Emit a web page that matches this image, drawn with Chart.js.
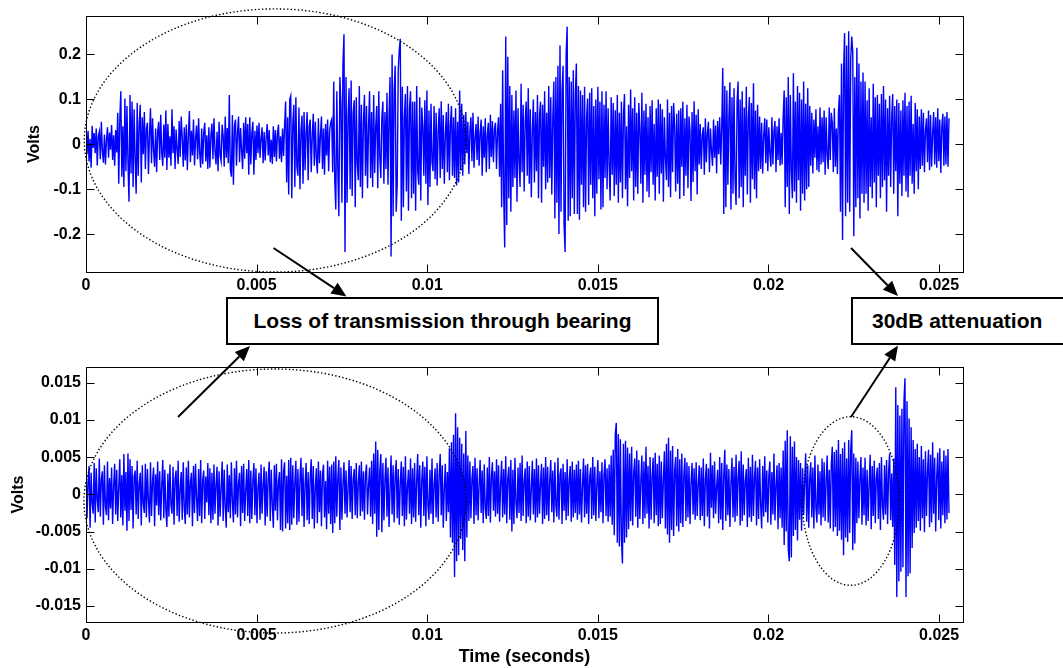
<!DOCTYPE html>
<html>
<head>
<meta charset="utf-8">
<script src="https://cdn.jsdelivr.net/npm/chart.js@4.4.0/dist/chart.umd.min.js"></script>
<style>
  html, body { margin: 0; padding: 0; background: #fff; overflow: hidden; }
  #wrap { position: relative; width: 1063px; height: 668px; }
  canvas { position: absolute; left: 0; top: 0; }
  .note {
    position: absolute; box-sizing: border-box; border: 2px solid #000; background: #fff;
    font: bold 21px "Liberation Sans", Arial, sans-serif; color: #000;
    display: flex; align-items: center; white-space: nowrap;
  }
</style>
</head>
<body>
<div id="wrap">
  <canvas id="topChart" width="1063" height="668"></canvas>
  <canvas id="bottomChart" width="1063" height="668"></canvas>
  <div class="note" style="left:226px;top:297px;width:433px;height:48px;justify-content:center;">Loss of transmission through bearing</div>
  <div class="note" style="left:851px;top:297px;width:240px;height:48px;padding-left:19px;">30dB attenuation</div>
</div>
<script>
// sample clock of both records (seconds)
const sampleStep = 0.00003;

// upper trace: bearing transmitted signal, millivolts
const topMillivolts = [
  45, -22, 30, -38, 12, -52, 41, -8, 25, -20, 35, -47, 18, 28, -33, 50, -15, -41, 22, -45, 10, 38, -30, 26, -12, 43, -35, 20, -48, 32, -18, 70, -88, 55, 118, -72, 40, -95, 102, -60,
  85, -40, -128, 110, -65, 95, -95, 78, -30, -110, 92, -70, 45, 88, -85, 60, -22, 72, -55, 35, 48, -66, 20, 80, -42, 58, -12, -50, 35, -62, 28, 50, -35, 66, -20, -48, 44, -30, 75, -57,
  45, -30, 18, -48, 78, -20, 40, -55, 33, -10, -44, 52, -28, 62, 15, -50, 38, -36, 44, -58, 22, 74, -40, 30, -25, 55, -47, 12, 42, -33, 58, -18, -52, 35, -44, 26, 48, -38, 20, -55,
  38, -52, 20, 46, -33, 58, -14, -45, 28, -60, 50, -25, -38, 44, 18, -50, 62, -30, 36, -42, 110, -55, -72, 65, -90, 40, 55, -48, 25, 62, -40, 36, -15, -55, 48, -32, 60, -20, 45, -68,
  60, -45, 25, 50, -68, 30, -35, 42, -20, 48, -30, 12, 38, -42, 28, -36, 15, 45, -25, 32, -40, 10, -44, 40, -28, 32, -38, 22, 44, -32, 18, -40, 35, -26, 42, 95, -85, 60, -112, 100,
  108, -120, 45, 88, -95, 105, -50, -70, 82, -100, 30, 64, -88, 72, -58, 25, 72, -80, 40, 55, -62, 18, 68, -48, 50, -30, -65, 58, -42, 20, 62, -55, 35, -68, 45, -25, 55, -60, 30, 48,
  55, -62, 140, -80, -145, 118, -60, -160, 150, 90, -130, 180, 245, -240, 150, -130, 60, 125, -100, 142, -115, 70, 98, -140, 105, -45, -80, 130, -95, 88, -120, 50, 110, -70, 85, -98, 40, 118, -75, 72,
  -95, 110, -64, 40, 85, -98, 118, -30, -75, 60, 95, -88, 72, -55, 115, -90, 64, 150, -250, 200, -160, 120, 175, -150, -90, 165, 210, 235, -170, 128, -140, 60, 112, -105, 130, -148, 80, 118, -120, 95,
  -110, 95, -148, 130, -60, -90, 105, -125, 82, 40, -70, 98, -88, 120, -135, 75, -95, 90, -40, -60, 85, -78, 70, -92, 30, 80, -75, 96, -55, 65, -88, 20, 72, -62, 90, -80, 45, 85, -70, 60,
  -75, 80, -92, 50, -85, 120, -58, 90, -70, 65, -45, 72, -20, 50, -66, 30, 60, -38, 70, -52, 15, 45, -35, 62, -48, 25, 55, -70, 40, -30, 58, -62, 20, 48, -55, 66, -28, 52, -40, 35,
  48, -55, 30, 60, -72, 90, -140, 165, -110, -230, 240, -180, 195, -120, 130, -150, 110, -95, 75, -75, 120, -128, 80, -40, -95, 135, -62, 88, -105, 50, 95, -70, 125, -88, 78, -118, 30, 100, -85, 72,
  -60, 110, -120, 65, 95, -130, 88, -50, 118, -100, 70, -85, 130, -75, 105, -112, 60, 140, -165, 150, -130, 175, -200, 220, -150, 120, 175, -180, -240, 200, 262, -170, 150, -160, 140, -120, 165, -155, 110, 180,
  -155, 130, -168, 120, -90, 110, -140, 128, -150, 60, 102, -135, 115, -90, 125, -120, 85, -160, 100, -110, 128, -78, 95, -145, 118, -140, 88, -75, 118, -100, 80, -45, -125, 105, -68, 92, -115, 76, -90, 110,
  -130, 70, -85, 95, -120, 65, 112, -100, 40, -138, 88, -75, 122, -60, 80, -125, 105, -95, 70, -110, 92, 35, -88, 115, -130, 75, -68, 90, -105, 60, -118, 85, -62, 98, -90, 45, -125, 80, -72, 100,
  -110, 90, -65, 78, -128, 60, -30, -80, 100, -95, 70, -118, 85, -62, 92, 40, -105, 68, -88, 75, -122, 80, -50, 95, -115, 58, -70, 88, -98, 62, 30, -126, 72, -84, 96, -60, 66, -112, 78, -45,
  45, -55, 20, 38, -68, 58, -40, 25, 50, -62, 35, -15, -48, 55, -30, 42, -65, 52, -22, 60, -45, 38, 170, -155, 130, -140, 120, -90, 60, 138, -145, 105, -110, 125, -80, -135, 95, 140, -120, 100,
  -95, 118, -140, 82, -70, 128, -112, 60, 105, -130, 92, -78, 136, -100, 75, -120, 88, -60, 62, -55, 48, -65, 20, 58, -42, 55, -60, 38, -20, -50, 60, -45, 30, 52, -62, 40, -35, 58, -48, 25,
  -45, 60, 120, -140, 105, -95, 150, -155, 110, -60, -120, 158, -105, 95, -130, 130, -80, 115, -148, 100, -110, 140, -125, 90, -100, 125, -95, 85, -48, 70, -65, 55, -30, 78, -58, 40, -62, 82, -45, 60,
  -40, 75, -68, 60, -25, -55, 82, -35, 70, 48, -62, 80, -50, 35, -66, 72, 110, -150, 180, -213, 160, 248, -160, 220, -130, 252, -150, 190, 240, 205, -205, 150, -140, 215, -120, 180, -165, 140, -110, 160,
  -130, 140, -110, 98, -148, 125, -95, 60, -120, 135, -85, 105, -140, 110, -70, 90, -120, 112, -95, 130, -80, 100, -150, 80, -70, 108, -95, 60, 112, -110, 85, -60, 100, -160, 92, -88, 75, -115, 98, -70,
  115, -105, 85, -118, 95, -70, 108, -88, 45, -110, 92, -60, 78, -100, 62, -55, 78, -48, 70, -62, 30, 58, -40, 75, -58, 65, -50, 22, 72, -45, 60, -52, 80, -38, 55, -64, 40, 68, -48, 62,
  -45, 72, -50, 58
];

// lower trace: 30dB attenuated record, millivolts
const bottomMillivolts = [
  4.6, -3.2, 1.5, 3.8, -4.5, 2.9, -1.2, -2.6, 4.2, -3.8, 3.5, -0.8, -2.4, 4.8, -3.0, 2.0, 3.1, -4.1, 3.9, -1.6, -2.8, 4.4, -3.5, 2.2, -1.9, 3.6, -4.0, 1.1, 4.1, -2.7, 3.3, -3.6, 0.9, 4.7, -3.1, 2.6, -4.2, 5.4, -2.2, 3.0,
  -4.9, 5.5, -3.6, 4.7, -2.1, 3.8, -4.6, 2.4, 3.2, -2.7, 4.5, -3.3, 1.4, 2.9, -4.2, 3.9, -1.3, -2.5, 4.1, -3.1, 3.4, -0.9, -3.8, 4.3, -2.9, 1.8, 3.6, -4.3, 2.7, -1.5, 4.4, -2.8, 3.1, -3.5, 1.2, 4.6, -3.2, 3.3, -2.0, -4.4,
  2.8, -3.0, 4.0, -1.4, -2.6, 3.7, -4.1, 2.1, 3.2, -2.9, 4.5, -3.7, 0.7, 3.0, -3.4, 4.3, -1.9, -4.0, 3.6, -2.7, 4.5, -3.1, 1.6, 2.9, -4.3, 3.8, -2.5, 4.1, -0.6, -3.6, 3.4, -2.9, 4.6, -3.9, 1.9, 3.2, -3.3, 2.4, -1.1, 4.2,
  -2.8, 3.5, -3.9, 2.9, -3.4, 4.0, -2.6, 1.3, 3.7, -4.2, 3.1, -3.0, 0.8, 4.4, -3.6, 3.3, -1.7, -4.5, 4.0, -2.4, 2.6, -3.2, 4.3, -1.0, -3.8, 3.5, -2.7, 4.5, -3.1, 1.5, 2.9, -4.3, 3.8, -2.5, 4.1, -3.6, 0.5, 3.4, -2.9, 4.6,
  -3.9, 3.2, -3.3, 1.8, 4.2, -2.8, 3.5, -3.9, 0.9, 2.9, -3.4, 4.0, -2.6, 1.2, 3.7, -4.2, 3.1, -3.0, 2.2, 4.4, -3.6, 3.3, -1.4, -4.5, 3.9, -2.2, 4.1, -3.5, 1.7, 3.0, -4.8, 4.7, -5.0, 3.1, 4.3, -4.6, 2.5, -3.9, 4.6, -4.8,
  4.9, -4.1, 3.9, -3.2, 1.6, 4.5, -4.1, 3.4, -3.7, 2.0, 4.9, -2.9, 3.6, -4.4, 1.3, 4.2, -3.5, 3.0, -4.0, 2.3, 4.7, -3.3, 3.8, -4.6, 0.9, 3.5, -3.9, 4.4, -2.4, 3.2, -4.3, 2.7, 4.0, -3.1, 1.8, -4.7, 4.5, -2.6, 3.7, -4.0,
  4.0, -5.2, 4.4, -3.9, 5.1, -3.0, 2.2, 4.6, -4.8, 3.6, -3.4, 1.4, 4.3, -2.6, 3.2, -3.1, 0.8, 4.6, -2.4, 3.8, -3.3, 2.1, 3.4, -2.8, 4.2, -3.2, 1.6, 3.9, -2.9, 4.4, -2.3, 3.1, -3.4, 2.6, 4.0, -2.7, 1.2, 3.6, -3.0, 4.5,
  -4.0, 5.5, -2.6, 7.1, -5.7, 6.0, -4.8, 3.2, 5.4, -5.1, 4.2, -3.5, 1.9, 4.9, -3.0, 3.6, -4.4, 0.7, 5.2, -2.7, 3.9, -3.8, 2.4, 4.6, -3.2, 3.4, -4.1, 1.5, 4.4, -2.9, 3.7, -4.3, 5.1, -3.4, 1.0, 3.3, -2.6, 4.8, -4.0, 3.5,
  -3.1, 4.2, -3.7, 1.8, 5.4, -2.8, 3.9, -4.5, 2.0, 4.4, -2.9, 3.7, -4.3, 5.1, -1.5, -3.4, 3.3, -2.6, 4.8, -4.0, 1.2, 3.5, -3.1, 4.2, -3.7, 2.6, 5.4, -2.8, 3.9, -4.5, 0.8, 4.1, -3.6, 3.0, -2.4, 6.2, -5.8, 7.0, -6.5, 8.0,
  -11.1, 10.9, -9.0, 9.0, -8.2, 7.6, -6.0, 6.8, -7.5, 5.5, -9.0, 8.5, -5.8, 5.2, -3.6, 4.4, -3.2, 2.1, 3.8, -4.0, 4.9, -2.8, 3.5, -3.5, 1.3, 4.6, -2.5, 3.2, -3.9, 4.0, -1.8, -3.3, 3.6, -2.9, 5.0, -3.8, 2.4, 4.3, -2.2, 3.1,
  -3.0, 4.7, -2.6, 3.9, -3.7, 1.4, 4.5, -3.1, 3.4, -2.7, 5.1, -3.9, 2.2, 3.7, -3.4, 4.6, -5.0, 3.3, -4.0, 4.9, -1.2, -3.2, 3.6, -2.5, 4.2, -3.6, 5.2, -2.9, 1.7, 3.5, -3.9, 4.4, -3.0, 3.8, -3.5, 0.8, 4.5, -2.7, 3.4, -3.8,
  4.8, -3.1, 3.9, -2.6, 1.5, 4.1, -4.0, 3.6, -3.3, 5.0, -2.8, 3.7, -3.6, 2.0, 4.6, -2.4, 3.2, -3.8, 4.3, -1.6, -3.0, 4.9, -3.4, 2.7, 3.5, -4.0, 4.1, -2.2, 3.0, -3.5, 4.7, -2.9, 1.9, 3.8, -3.7, 4.4, -3.1, 3.3, -2.5, 4.0,
  -3.4, 4.5, -2.7, 3.4, -3.8, 1.1, 4.8, -3.1, 3.9, -2.6, 4.1, -4.0, 2.3, 3.6, -3.3, 5.0, -2.8, 3.7, -3.6, 1.4, 4.6, -3.2, 3.1, -2.4, 4.3, -3.9, 2.6, 4.7, -2.9, 3.5, -3.7, 4.0, -3.0, 5.2, -4.1, 6.0, -5.5, 8.0, 9.6, -6.5,
  8.1, -7.0, 7.4, -6.0, -9.3, 6.8, -6.5, 7.2, -5.8, 6.3, -4.7, 5.5, -3.6, 6.4, -4.2, 2.8, 4.8, -3.0, 5.9, -4.5, 4.6, -3.3, 1.9, 5.2, -4.0, 4.4, -3.2, 6.4, -2.6, 3.8, -4.6, 5.0, -3.4, 2.5, 4.9, -3.9, 5.6, -2.8, 4.1, -4.3,
  5.2, -4.0, 4.4, -3.2, 2.0, 5.8, -4.6, 6.8, -5.4, 7.6, -6.5, 5.9, -4.8, 6.5, -5.6, 3.2, 5.0, -4.3, 6.1, -5.0, 4.7, -3.9, 5.5, -4.4, 2.6, 4.9, -3.6, 4.3, -3.1, 3.8, -4.0, 1.6, 4.2, -2.7, 3.5, -3.4, 4.3, -2.9, 1.3, 3.9,
  -3.5, 3.6, -2.9, 4.8, -4.3, 2.0, 4.1, -3.0, 3.5, -4.6, 5.6, -1.8, 3.9, -3.2, 4.4, -2.6, 1.0, 3.3, -3.9, 5.0, -3.4, 4.2, -4.8, 2.7, 6.0, -3.6, 4.0, -2.8, 3.4, -4.4, 1.5, 4.9, -3.1, 3.7, -3.7, 5.3, -2.9, 2.3, 4.5, -4.2,
  5.8, -3.6, 4.0, -2.8, 1.8, 3.4, -4.4, 4.9, -3.1, 3.7, -3.7, 5.3, -2.9, 2.2, 4.5, -4.2, 3.6, -3.3, 4.7, -1.4, -4.6, 3.8, -3.0, 5.1, -2.4, 3.2, -3.8, 2.5, 4.4, -4.1, 3.0, -2.7, 5.5, -3.5, 1.2, 3.9, -4.7, 4.2, -3.2, 3.6,
  -4.5, 5.9, -6.8, 7.2, -5.0, 8.6, -7.4, -9.0, 7.8, -8.5, 6.4, -5.6, 7.1, -4.8, 5.0, -6.2, 4.6, -3.4, 4.2, -4.9, 3.5, -2.8, 1.6, 5.5, -3.7, 3.9, -4.5, 2.2, 4.3, -3.1, 3.6, -4.6, 5.2, -1.9, -3.8, 4.0, -2.7, 3.1, -4.2, 4.8,
  -3.1, 4.3, -3.6, 2.0, 5.2, -3.8, 3.3, -4.6, 4.0, 6.4, -5.0, 5.7, -4.4, 6.0, -5.6, 7.3, -4.9, 5.4, -6.1, 6.2, -8.2, 7.0, -5.8, 4.8, -6.4, 7.3, -5.2, 6.0, 8.6, -7.5, 5.5, -6.6, 4.9, -3.9, 4.4, -3.2, 2.2, 5.0, -4.1, 3.6,
  -2.8, 4.9, -4.2, 3.3, -3.6, 1.4, 5.3, -4.7, 3.8, -2.9, 4.5, -3.9, 2.2, 3.6, -3.3, 4.2, -4.8, 5.0, -1.6, -3.4, 3.9, -2.7, 4.6, -4.0, 3.1, 5.5, -3.5, 2.8, -4.4, 4.8, -9.5, 14.4, -13.8, 12.0, -11.7, 10.6, -10.4, 11.5, -9.8, 12.5,
  15.6, -13.8, 12.5, -11.0, 10.2, -10.6, 9.0, -7.2, 7.3, -5.2, 6.1, -4.5, 6.8, -3.6, 5.0, -4.9, 6.5, -3.2, 4.7, -5.1, 5.8, -2.9, 3.1, 6.0, -4.4, 5.3, -3.8, 7.0, -2.6, 4.9, -5.0, 2.4, 5.6, -3.5, 6.2, -4.6, 4.4, -2.8, 5.9, -3.9,
  5.2, -3.4, 6.1, -2.5
];

const timeTicks = [0, 0.005, 0.01, 0.015, 0.02, 0.025];
const topVoltTicks = [-0.2, -0.1, 0, 0.1, 0.2];
const bottomVoltTicks = [-0.015, -0.01, -0.005, 0, 0.005, 0.01, 0.015];

const FONT = '"Liberation Sans", Arial, sans-serif';

// dotted ellipses in data units (seconds, volts)
const topEllipses = [{ cx: 0.00554, cy: 0.0085, rx: 0.00559, ry: 0.293 }];
const bottomEllipses = [
  { cx: 0.00554, cy: -0.0009, rx: 0.0056, ry: 0.01774 },
  { cx: 0.02241, cy: -0.0009, rx: 0.00142, ry: 0.01133 }
];
// arrows in page pixels [x0, y0, x1(tip), y1(tip)]
const arrows = [
  [273.5, 248, 346.5, 296.5],
  [178, 417, 250, 346],
  [851, 248, 898, 296],
  [851, 417, 898, 345.5]
];

function fmt(v) {
  return parseFloat(v.toFixed(4)).toString();
}

function drawArrow(ctx, a) {
  const [x0, y0, x1, y1] = a;
  const ang = Math.atan2(y1 - y0, x1 - x0);
  const len = 15, half = 6.5;
  const bx = x1 - len * Math.cos(ang), by = y1 - len * Math.sin(ang);
  ctx.beginPath();
  ctx.moveTo(x0, y0);
  ctx.lineTo(bx, by);
  ctx.lineWidth = 2;
  ctx.strokeStyle = '#000';
  ctx.stroke();
  ctx.beginPath();
  ctx.moveTo(x1, y1);
  ctx.lineTo(bx + half * Math.sin(ang), by - half * Math.cos(ang));
  ctx.lineTo(bx - half * Math.sin(ang), by + half * Math.cos(ang));
  ctx.closePath();
  ctx.fillStyle = '#000';
  ctx.fill();
}

function makeChart(id, values, yTicks, yMin, yMax, pad, xAxisHeight, yTitlePad, showXTitle, ellipses, arrowList) {
  const points = values.map((mv, i) => ({ x: i * sampleStep, y: mv / 1000 }));

  const framePlugin = {
    id: 'frame',
    afterDraw(chart) {
      const ctx = chart.ctx;
      const a = chart.chartArea;
      const xs = chart.scales.x, ys = chart.scales.y;
      const L = Math.round(a.left) + 0.5, R = Math.round(a.right) + 0.5;
      const T = Math.round(a.top) + 0.5, B = Math.round(a.bottom) + 0.5;
      ctx.save();
      ctx.strokeStyle = '#000';
      ctx.lineWidth = 1;
      ctx.strokeRect(L, T, R - L, B - T);
      ctx.beginPath();
      timeTicks.forEach(t => {
        const px = Math.round(xs.getPixelForValue(t)) + 0.5;
        ctx.moveTo(px, B); ctx.lineTo(px, B - 8);
        ctx.moveTo(px, T); ctx.lineTo(px, T + 8);
      });
      yTicks.forEach(v => {
        const py = Math.round(ys.getPixelForValue(v)) + 0.5;
        ctx.moveTo(L, py); ctx.lineTo(L + 8, py);
        ctx.moveTo(R, py); ctx.lineTo(R - 8, py);
      });
      ctx.stroke();

      ctx.setLineDash([1.4, 2.2]);
      ctx.lineWidth = 1.4;
      ellipses.forEach(e => {
        const cx = xs.getPixelForValue(e.cx), cy = ys.getPixelForValue(e.cy);
        const rx = xs.getPixelForValue(e.cx + e.rx) - cx;
        const ry = cy - ys.getPixelForValue(e.cy + e.ry);
        ctx.beginPath();
        ctx.ellipse(cx, cy, rx, ry, 0, 0, Math.PI * 2);
        ctx.stroke();
      });
      ctx.setLineDash([]);
      arrowList.forEach(ar => drawArrow(ctx, ar));
      ctx.restore();
    }
  };

  return new Chart(document.getElementById(id), {
    type: 'line',
    data: {
      datasets: [{
        data: points,
        borderColor: '#0000ff',
        borderWidth: 1.4,
        pointRadius: 0,
        tension: 0,
        fill: false
      }]
    },
    options: {
      responsive: false,
      animation: false,
      events: [],
      layout: { padding: pad },
      plugins: { legend: { display: false }, tooltip: { enabled: false } },
      scales: {
        x: {
          type: 'linear',
          min: 0,
          max: 0.0257,
          grid: { display: false, drawTicks: false },
          border: { display: false },
          afterBuildTicks: s => { s.ticks = timeTicks.map(v => ({ value: v })); },
          afterFit: s => { s.height = xAxisHeight; },
          ticks: {
            padding: 4,
            maxRotation: 0,
            autoSkip: false,
            color: '#000',
            font: { family: FONT, size: 16, weight: 'bold' },
            callback: v => fmt(v)
          },
          title: {
            display: showXTitle,
            text: 'Time (seconds)',
            color: '#000',
            padding: { top: 0, bottom: 0.5 },
            font: { family: FONT, size: 18, weight: 'bold' }
          }
        },
        y: {
          type: 'linear',
          min: yMin,
          max: yMax,
          grid: { display: false, drawTicks: false },
          border: { display: false },
          afterBuildTicks: s => { s.ticks = yTicks.map(v => ({ value: v })); },
          afterFit: s => { s.width = 86; },
          ticks: {
            padding: 5,
            autoSkip: false,
            color: '#000',
            font: { family: FONT, size: 16, weight: 'bold' },
            callback: v => fmt(v)
          },
          title: {
            display: true,
            text: 'Volts',
            color: '#000',
            padding: { top: yTitlePad, bottom: 0 },
            font: { family: FONT, size: 16, weight: 'bold' }
          }
        }
      }
    },
    plugins: [framePlugin]
  });
}

makeChart('topChart', topMillivolts, topVoltTicks, -0.2844, 0.2857,
  { left: 0, right: 100, top: 16, bottom: 366 }, 30, 25.4, false, topEllipses, []);
makeChart('bottomChart', bottomMillivolts, bottomVoltTicks, -0.01716, 0.01711,
  { left: 0, right: 100, top: 367, bottom: 0 }, 46, 8.7, true, bottomEllipses, arrows);
</script>
</body>
</html>
